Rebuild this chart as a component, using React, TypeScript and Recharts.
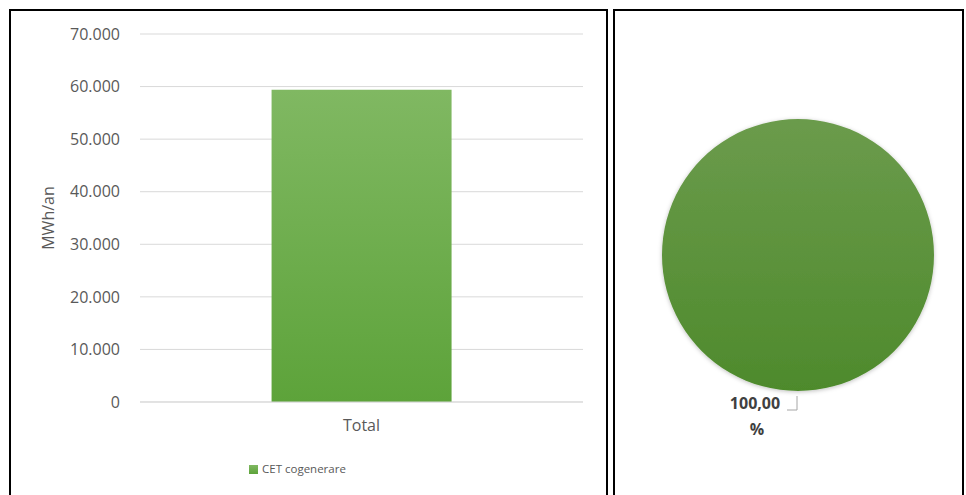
import React from "react";
import { BarChart, Bar, XAxis, YAxis, CartesianGrid, Legend, PieChart, Pie, Cell } from "recharts";

const categories = ["Total"];
const seriesName = "CET cogenerare";
const seriesValues = [59400];
const yTicks = [0, 10000, 20000, 30000, 40000, 50000, 60000, 70000];
const pieNames = ["CET cogenerare"];
const pieValues = [100];

const barData = categories.map((c, i) => ({ category: c, value: seriesValues[i] }));
const pieData = pieNames.map((n, i) => ({ name: n, value: pieValues[i] }));

const FONT = "'Open Sans', 'DejaVu Sans', sans-serif";
const fmt = (v: number) => (v === 0 ? "0" : v.toLocaleString("en-US").replace(/,/g, "."));

const renderPieLabel = (props: any) => {
  const { cx, cy, outerRadius, value } = props;
  const ly = cy + outerRadius;
  return (
    <g>
      <text x={cx - 43} y={ly + 18} textAnchor="middle" fontFamily={FONT} fontSize={16} fontWeight={700} fill="#404040">
        {value.toFixed(2).replace(".", ",")}
      </text>
      <text x={cx - 41} y={ly + 44} textAnchor="middle" fontFamily={FONT} fontSize={16} fontWeight={700} fill="#404040">
        %
      </text>
      <polyline points={`${cx - 11},${ly + 19} ${cx - 1},${ly + 19} ${cx - 1},${ly + 5}`} fill="none" stroke="#a6a6a6" strokeWidth={1} />
    </g>
  );
};

export default function App() {
  return (
    <div style={{ position: "absolute", left: 0, top: 0, width: 966, height: 495, background: "#fff", overflow: "hidden" }}>
      <div style={{ position: "absolute", left: 9, top: 9, width: 595, height: 500, borderLeft: "2px solid #000", borderTop: "2px solid #000", borderRight: "2px solid #000" }} />
      <div style={{ position: "absolute", left: 613, top: 9, width: 347, height: 500, borderLeft: "2px solid #000", borderTop: "2px solid #000", borderRight: "2px solid #000" }} />
      <div style={{ position: "absolute", left: 0, top: 0 }}>
        <BarChart width={600} height={495} data={barData} margin={{ top: 34, right: 17, left: 60, bottom: 48 }} barCategoryGap="29.7%">
          <defs>
            <linearGradient id="barGrad" x1="0" y1="0" x2="0" y2="1">
              <stop offset="0%" stopColor="#80b862" />
              <stop offset="100%" stopColor="#5da33a" />
            </linearGradient>
          </defs>
          <CartesianGrid vertical={false} stroke="#d9d9d9" />
          <XAxis
            dataKey="category"
            axisLine={{ stroke: "#d9d9d9" }}
            tickLine={false}
            tickMargin={12}
            tick={{ fontFamily: FONT, fontSize: 16, fill: "#595959" }}
            height={30}
          />
          <YAxis
            width={80}
            domain={[0, 70000]}
            ticks={yTicks}
            tickFormatter={fmt}
            axisLine={false}
            tickLine={false}
            tickMargin={14}
            tick={{ fontFamily: FONT, fontSize: 16, fill: "#595959" }}
            label={{ value: "MWh/an", angle: -90, position: "insideLeft", dx: -17, style: { fontFamily: FONT, fontSize: 16, fill: "#595959", textAnchor: "middle" } }}
          />
          <Legend
            verticalAlign="bottom"
            iconType="square"
            iconSize={9}
            wrapperStyle={{ fontFamily: FONT, fontSize: 11.5, color: "#595959", top: 461, left: 249, width: "auto" }}
            formatter={(v: string) => <span style={{ color: "#595959" }}>{v}</span>}
          />
          <Bar dataKey="value" name={seriesName} fill="url(#barGrad)" isAnimationActive={false} />
        </BarChart>
      </div>
      <div style={{ position: "absolute", left: 613, top: 0 }}>
        <PieChart width={350} height={495}>
          <defs>
            <linearGradient id="pieGrad" x1="0" y1="0" x2="0" y2="1">
              <stop offset="0%" stopColor="#6b9b4c" />
              <stop offset="100%" stopColor="#4e8a2c" />
            </linearGradient>
            <filter id="pieShadow" x="-10%" y="-10%" width="120%" height="120%">
              <feDropShadow dx="0" dy="1" stdDeviation="2" floodColor="#000" floodOpacity="0.25" />
            </filter>
          </defs>
          <Pie
            data={pieData}
            dataKey="value"
            nameKey="name"
            cx={180}
            cy={250}
            outerRadius={136}
            startAngle={90}
            endAngle={-270}
            stroke="none"
            label={renderPieLabel}
            labelLine={false}
            isAnimationActive={false}
            style={{ filter: "url(#pieShadow)" }}
          >
            {pieData.map((d) => (
              <Cell key={d.name} fill="url(#pieGrad)" />
            ))}
          </Pie>
        </PieChart>
      </div>
    </div>
  );
}
